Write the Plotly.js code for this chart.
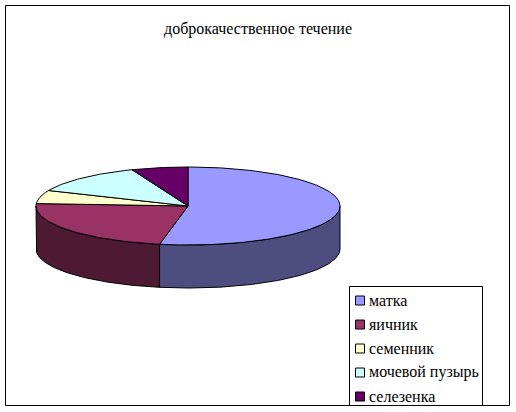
<!DOCTYPE html>
<html><head><meta charset="utf-8">
<script src="https://cdn.plot.ly/plotly-3.0.1.min.js"></script>
<style>html,body{margin:0;padding:0;background:#fff}</style></head>
<body><div id="chart" style="width:516px;height:412px"></div>
<script>
const categories = ["матка","яичник","семенник","мочевой пузырь","селезенка"];
const values = [53, 23, 5.5, 12.5, 6];
const topColors = ["#9999FF","#993366","#FFFFCC","#CCFFFF","#660066"];
const sideColors = ["#4D4D80","#4D1933","#808066","#668080","#330033"];
const chartTitle = "доброкачественное течение";

const cx = 188, cy = 206, rx = 152, ry = 39, depth = 43;
const FONT = '"Liberation Serif","Times New Roman",serif';
const total = values.reduce((a,b)=>a+b,0);
const pt = (deg, dy=0) => { const r = deg*Math.PI/180; return [cx+rx*Math.sin(r), cy-ry*Math.cos(r)+dy]; };
function arc(a, b, dy=0){ const out=[]; const n=Math.max(2,Math.ceil(Math.abs(b-a))); for(let i=0;i<=n;i++) out.push(pt(a+(b-a)*i/n,dy)); return out; }

const traces = [];
let start = 0;
const slices = values.map(v => { const s={a:start,b:start+v/total*360}; start=s.b; return s; });
slices.forEach((s,i)=>{
  const a=Math.max(s.a,90), b=Math.min(s.b,270);
  if(b>a){
    const poly=[...arc(a,b),...arc(b,a,depth)];
    poly.push(poly[0]);
    traces.push({type:"scatter",mode:"lines",x:poly.map(p=>p[0]),y:poly.map(p=>p[1]),fill:"toself",fillcolor:sideColors[i],
      line:{color:"#000",width:1},showlegend:false,hoverinfo:"skip"});
  }
});
slices.forEach((s,i)=>{
  const poly=[[cx,cy],...arc(s.a,s.b),[cx,cy]];
  traces.push({type:"scatter",mode:"lines",x:poly.map(p=>p[0]),y:poly.map(p=>p[1]),fill:"toself",fillcolor:topColors[i],
    line:{color:"#000",width:1},showlegend:false,name:categories[i],hoverinfo:"name"});
});

const rowY = i => 300 + 24*i;
const shapes = [
  {type:"rect",xref:"x",yref:"y",x0:349.5,x1:482.5,y0:286.5,y1:405.5,line:{color:"#000",width:1},fillcolor:"#fff",layer:"above"},
  {type:"rect",xref:"x",yref:"y",x0:5.5,x1:509.5,y0:5.5,y1:405.5,line:{color:"#000",width:1},fillcolor:"rgba(0,0,0,0)",layer:"above"}
];
const annotations = [];
categories.forEach((c,i)=>{
  shapes.push({type:"rect",xref:"x",yref:"y",x0:355.5,x1:364.5,y0:rowY(i)-4,y1:rowY(i)+5,line:{color:"#000",width:1},fillcolor:topColors[i],layer:"above"});
  annotations.push({xref:"x",yref:"y",x:368,y:rowY(i),text:c,showarrow:false,xanchor:"left",yanchor:"middle",borderpad:0,
    font:{family:FONT,size:16,color:"#000"}});
});

const layout = {
  width:516,height:412,margin:{l:0,r:0,t:0,b:0,autoexpand:false},paper_bgcolor:"#fff",plot_bgcolor:"#fff",
  xaxis:{range:[0,516],visible:false,fixedrange:true},
  yaxis:{range:[412,0],visible:false,fixedrange:true},
  title:{text:chartTitle,font:{family:FONT,size:16,color:"#000"},x:0.5,xref:"paper",xanchor:"center",y:1-28/412,yref:"paper",yanchor:"middle"},
  showlegend:false,shapes,annotations
};
Plotly.newPlot("chart",traces,layout,{displayModeBar:false,staticPlot:true});
</script></body></html>
